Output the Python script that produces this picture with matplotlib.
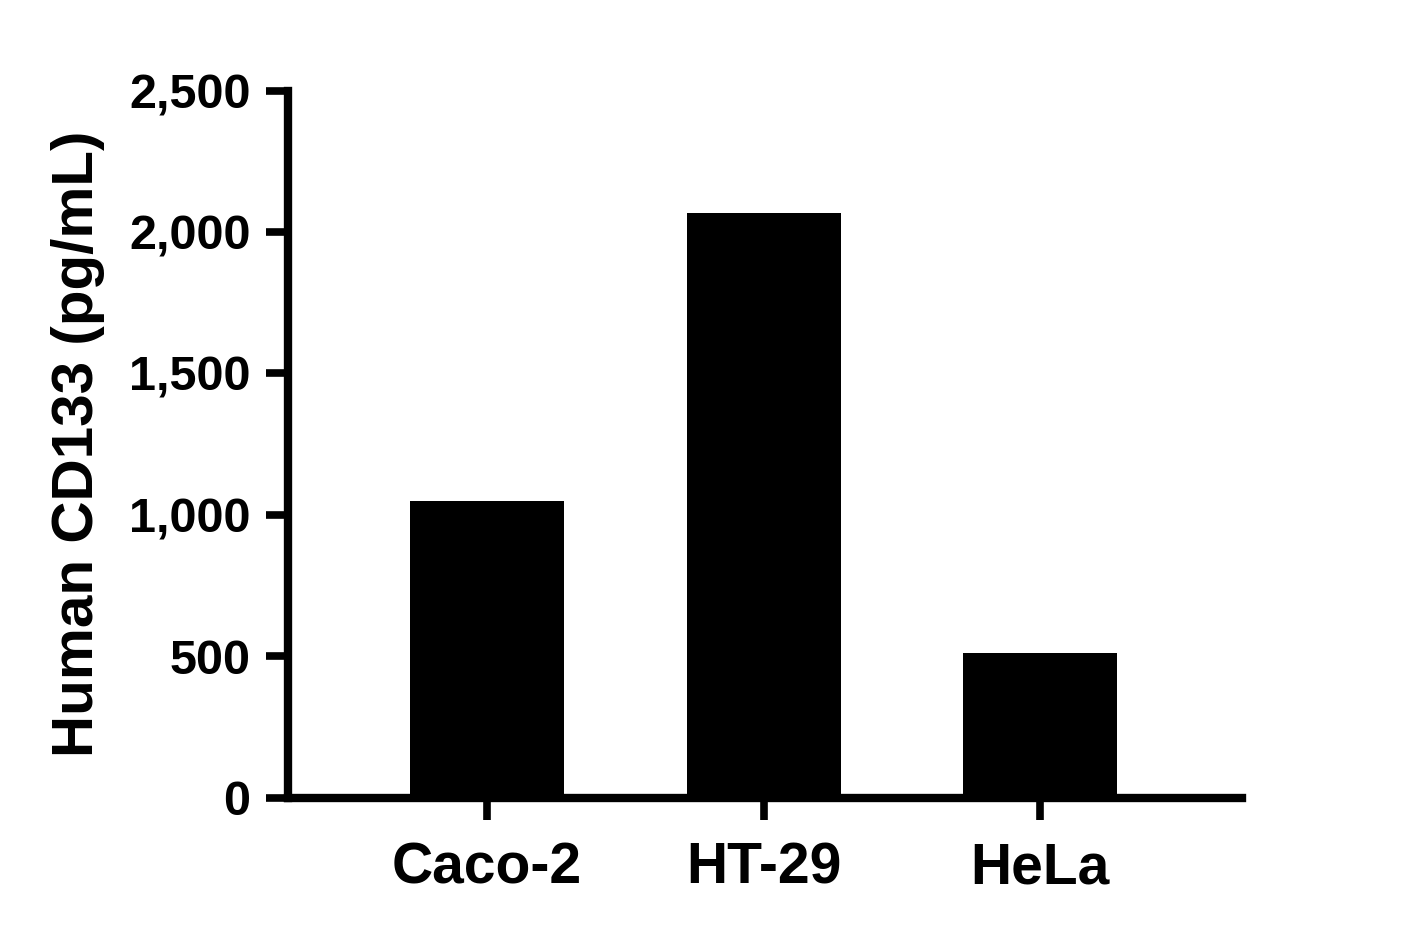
import matplotlib
matplotlib.use("Agg")
import matplotlib.pyplot as plt

cell_lines = ["Caco-2", "HT-29", "HeLa"]
cd133_pg_ml = [1049, 2066, 513]
y_ticks = [0, 500, 1000, 1500, 2000, 2500]
y_tick_labels = ["0", "500", "1,000", "1,500", "2,000", "2,500"]

plt.rcParams['font.family'] = ['Liberation Sans', 'DejaVu Sans']
plt.rcParams['font.weight'] = 'bold'

fig = plt.figure(figsize=(14.2, 9.38), dpi=100)
ax = fig.add_axes([0.2028, 0.1493, 0.6718, 0.7542])

x = range(len(cell_lines))
ax.bar(x, cd133_pg_ml, width=0.557, color='black', edgecolor='none', zorder=1)

ax.set_xlim(-0.72, 2.73)
ax.set_ylim(0, 2500)
ax.set_yticks(y_ticks)
ax.set_yticklabels(y_tick_labels, fontsize=35, fontweight='bold')
ax.set_xticks(list(x))
ax.set_xticklabels(cell_lines, fontsize=41, fontweight='bold')

for side in ['top', 'right']:
    ax.spines[side].set_visible(False)
for side in ['left', 'bottom']:
    ax.spines[side].set_linewidth(6)
    ax.spines[side].set_zorder(3)

ax.tick_params(axis='y', length=16, width=5.5, pad=11)
ax.tick_params(axis='x', length=16, width=5.5, pad=15)

ax.set_ylabel("Human CD133 (pg/mL)", fontsize=42, fontweight='bold', labelpad=17)

fig.savefig("out.png", dpi=100)
